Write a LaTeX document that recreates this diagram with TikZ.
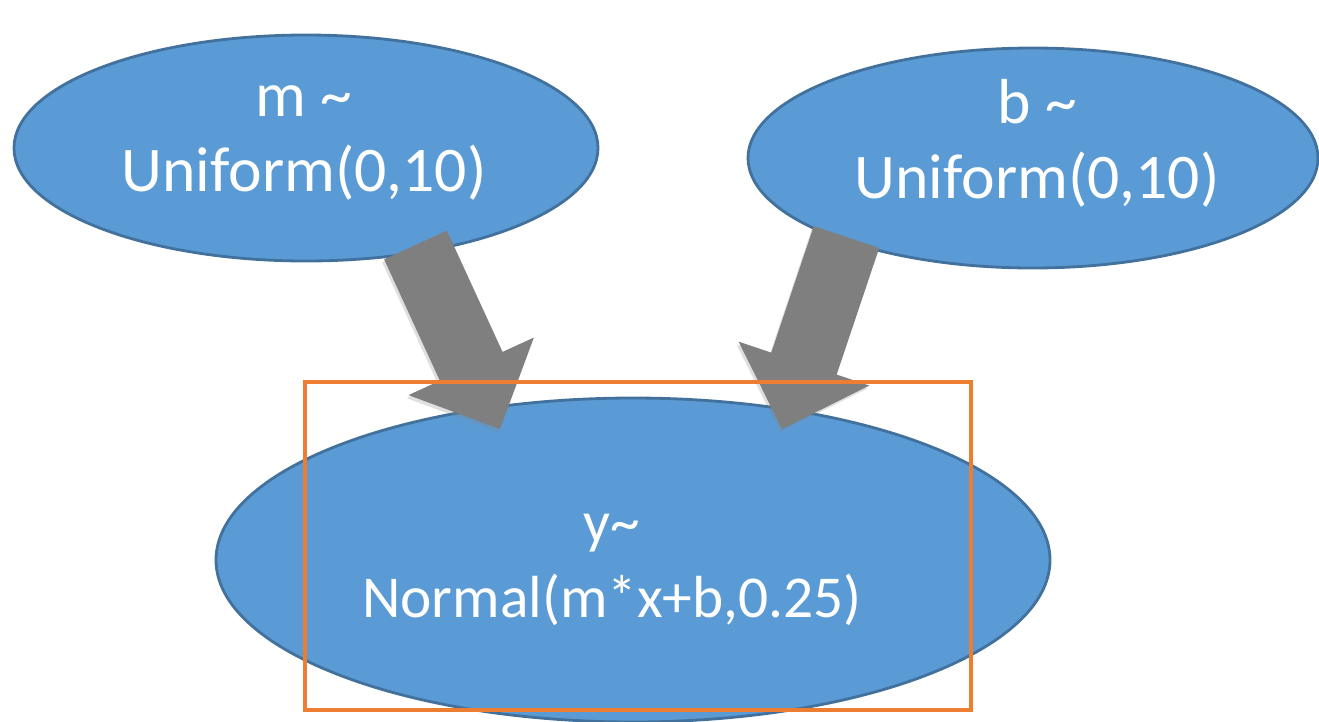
\documentclass[tikz,border=0pt]{standalone}
\usepackage{fontspec}
\setmainfont{Carlito}
\usetikzlibrary{shapes, arrows, positioning, shadows, calc}
\definecolor{nodeblue}{RGB}{91,155,213}
\definecolor{nodeedge}{RGB}{65,113,156}
\definecolor{boxorange}{RGB}{237,125,49}
\definecolor{arrowgray}{RGB}{127,127,127}

% fat arrow from tail #1 to tip #2, neck named #3
\newcommand{\blockarrow}[3]{%
  \coordinate (#3) at ($(#2)!0.69cm!(#1)$);
  \fill[arrowfill] ($(#1)!0.345cm!90:(#2)$) -- ($(#3)!0.345cm!90:(#2)$) -- ($(#3)!0.69cm!90:(#2)$) -- (#2)
    -- ($(#3)!0.69cm!-90:(#2)$) -- ($(#3)!0.345cm!-90:(#2)$) -- ($(#1)!0.345cm!-90:(#2)$) -- cycle;}

\begin{document}
\begin{tikzpicture}[font=\fontsize{18.1}{21.3}\selectfont,
    dist/.style={ellipse, draw=nodeedge, line width=0.8pt, fill=nodeblue},
    distlabel/.style={text=white, align=center, inner sep=0pt},
    arrowfill/.style={fill=arrowgray, drop shadow={opacity=0.25, shadow xshift=-0.02cm, shadow yshift=-0.03cm}}]
    \useasboundingbox (0,0) rectangle (13.19,-7.21);

    % priors and likelihood
    \node[dist, minimum width=5.84cm, minimum height=2.26cm] (m) at (3.06,-1.48) {};
    \node[dist, minimum width=5.70cm, minimum height=2.20cm] (b) at (10.33,-1.58) {};
    \node[dist, minimum width=8.34cm, minimum height=3.24cm] (y) at (6.33,-5.60) {};
    \node[distlabel] (mlabel) at (3.04,-1.43) {m \textasciitilde\\Uniform(0,10)};
    \node[distlabel] (blabel) at (10.37,-1.43) {b \textasciitilde\\Uniform(0,10)};
    \node[distlabel, font=\fontsize{16.9}{21.3}\selectfont] (ylabel) at (6.12,-5.70) {y\textasciitilde\\Normal(m*x+b,0.25)};

    % block arrows
    \coordinate (mtail) at (4.155,-2.45);
    \coordinate (mtip) at (5.00,-4.29);
    \coordinate (btail) at (8.465,-2.37);
    \coordinate (btip) at (7.82,-4.29);
    \blockarrow{mtail}{mtip}{mneck}
    \blockarrow{btail}{btip}{bneck}

    \node[draw=boxorange, line width=0.9pt, minimum width=6.66cm, minimum height=3.28cm] (frame) at (6.38,-5.46) {};
\end{tikzpicture}
\end{document}
